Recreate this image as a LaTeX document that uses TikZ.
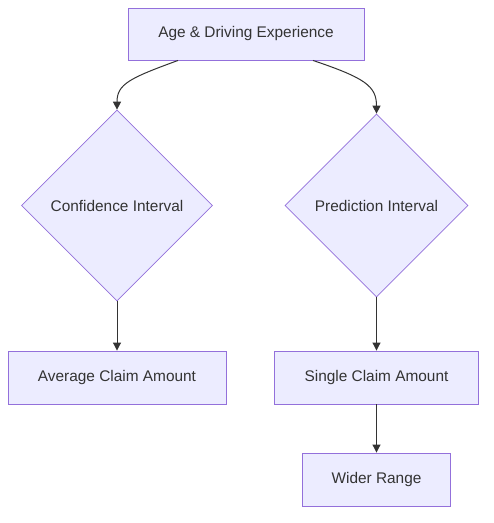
\documentclass[tikz,border=0pt]{standalone}
\usepackage{fontspec}
\setmainfont{Liberation Sans}
\usetikzlibrary{shapes.geometric,arrows.meta,calc}
\definecolor{nodefill}{HTML}{ECECFF}
\definecolor{nodeborder}{HTML}{9370DB}
\definecolor{edgecol}{HTML}{333333}
\begin{document}
\begin{tikzpicture}[x=1pt,y=-1pt,
  every node/.style={font=\fontsize{15.4}{18}\selectfont, text=edgecol},
  box/.style={draw=nodeborder, fill=nodefill, line width=0.9pt, rectangle, inner sep=0pt},
  decision/.style={draw=nodeborder, fill=nodefill, line width=0.7pt, diamond, aspect=1, inner sep=0pt},
  edge/.style={draw=edgecol, line width=1pt, -{Triangle[length=8pt,width=8pt]}}]
\useasboundingbox (0,0) rectangle (494,523);
\fill[white] (0,0) rectangle (494,523);
\node[box, minimum width=236pt, minimum height=52pt] (age) at (246,34) {Age \& Driving Experience};
\node[decision, minimum width=191pt, minimum height=191pt] (ci) at (117,205.5) {Confidence Interval};
\node[decision, minimum width=183pt, minimum height=183pt] (pi) at (376.5,205.5) {Prediction Interval};
\node[box, minimum width=218pt, minimum height=53pt] (avg) at (117,377.5) {Average Claim Amount};
\node[box, minimum width=204pt, minimum height=53pt] (single) at (376.5,377.5) {Single Claim Amount};
\node[box, minimum width=148pt, minimum height=53pt] (wider) at (376.5,479.5) {Wider Range};
\draw[edge] ([xshift=-68pt]age.south) .. controls (130,78) and (117,84) .. (ci.north);
\draw[edge] ([xshift=67pt]age.south) .. controls (365,78) and (376.5,86) .. (pi.north);
\draw[edge] (ci.south) -- (avg.north);
\draw[edge] (pi.south) -- (single.north);
\draw[edge] (single.south) -- (wider.north);
\end{tikzpicture}
\end{document}
